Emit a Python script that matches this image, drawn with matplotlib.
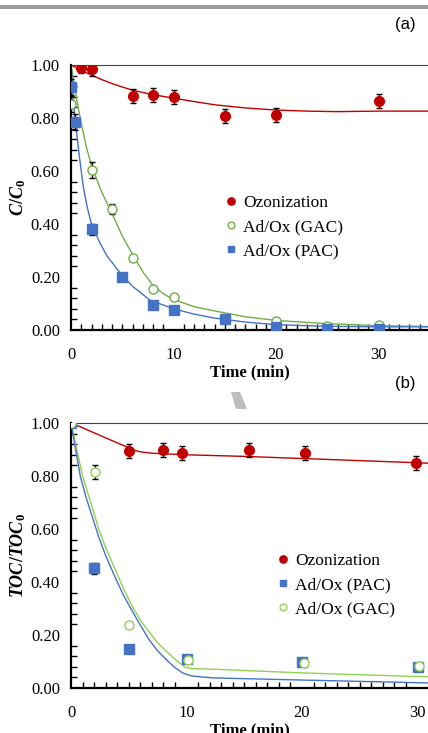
import matplotlib
matplotlib.use("Agg")
import matplotlib.pyplot as plt
from matplotlib.patches import Rectangle, Polygon
from matplotlib.ticker import MultipleLocator
import numpy as np

plt.rcParams["font.family"] = "Liberation Serif"
plt.rcParams["mathtext.fontset"] = "custom"
plt.rcParams["mathtext.it"] = "Liberation Serif:italic:bold"
plt.rcParams["mathtext.rm"] = "Liberation Serif:bold"

RED, GREEN, BLUE = "#C00000", "#70AD47", "#4472C4"
GREEN_B = "#92D050"

# ---- panel (a): C/C0 ----
a_oz_t = [1, 2, 6, 8, 10, 15, 20, 30]
a_oz_y = [0.99, 0.985, 0.883, 0.887, 0.879, 0.808, 0.811, 0.864]
a_oz_err = [0.02, 0.025, 0.025, 0.025, 0.025, 0.025, 0.025, 0.025]
a_gac_t = [0, 2, 4, 6, 8, 10, 20, 25, 30]
a_gac_y = [0.853, 0.604, 0.457, 0.27, 0.155, 0.125, 0.034, 0.015, 0.02]
a_gac_err = [0.03, 0.03, 0.02, 0.01, 0.0, 0.0, 0.0, 0.0, 0.0]
a_pac_t = [0, 0.4, 2, 5, 8, 10, 15, 20, 25, 30]
a_pac_y = [0.917, 0.785, 0.38, 0.20, 0.094, 0.075, 0.041, 0.012, 0.005, 0.004]
a_pac_err = [0.03, 0.03, 0.02, 0.0, 0.0, 0.0, 0.0, 0.0, 0.0, 0.0]

# fitted curves
a_oz_fit_t = [0, 1, 2, 3, 4, 5, 6, 8, 10, 12, 14, 17, 20, 23, 26, 30, 35]
a_oz_fit_y = [1.0, 0.98, 0.962, 0.945, 0.93, 0.917, 0.905, 0.888, 0.875, 0.862,
              0.85, 0.838, 0.83, 0.826, 0.824, 0.826, 0.826]
a_gac_fit_t = [0, 0.3, 0.6, 1, 1.5, 2, 3, 4, 5, 6, 7, 8, 9, 10, 12, 14, 17, 20, 25, 30, 35]
a_gac_fit_y = [1.0, 0.93, 0.86, 0.78, 0.69, 0.62, 0.52, 0.44, 0.355, 0.285, 0.22,
               0.168, 0.137, 0.115, 0.088, 0.072, 0.05, 0.036, 0.024, 0.016, 0.013]
a_pac_fit_t = [0, 0.2, 0.5, 0.8, 1.2, 1.6, 2, 2.8, 3.5, 4.8, 6, 7.7, 10, 12, 14,
               17, 20, 25, 30, 35]
a_pac_fit_y = [1.0, 0.88, 0.76, 0.66, 0.54, 0.46, 0.40, 0.33, 0.28, 0.215, 0.165,
               0.113, 0.08, 0.06, 0.045, 0.03, 0.02, 0.014, 0.012, 0.012]

# ---- panel (b): TOC/TOC0 ----
b_oz_t = [5, 8, 9.6, 15.4, 20.3, 29.9]
b_oz_y = [0.894, 0.898, 0.887, 0.898, 0.887, 0.849]
b_oz_err = [0.025] * 6
b_pac_t = [0, 2, 5, 10, 20, 30]
b_pac_y = [1.0, 0.452, 0.146, 0.11, 0.097, 0.08]
b_pac_err = [0, 0.02, 0, 0, 0, 0]
b_gac_t = [0, 2.1, 5, 10.1, 20.2, 30.1]
b_gac_y = [1.0, 0.815, 0.238, 0.106, 0.094, 0.083]
b_gac_err = [0, 0.025, 0, 0, 0, 0]

b_oz_fit_t = [0, 1, 2, 3, 4, 5, 5.5, 6, 7, 8, 10, 15, 20, 25, 30, 31]
b_oz_fit_y = [1.0, 0.982, 0.963, 0.944, 0.925, 0.907, 0.897, 0.891, 0.886, 0.884,
              0.88, 0.874, 0.866, 0.858, 0.85, 0.848]
b_pac_fit_t = [0, 0.5, 0.8, 1.3, 1.85, 2.4, 3, 3.9, 4.6, 5.4, 6.1, 6.8, 7.5, 8.3,
               9, 9.7, 10.4, 11.2, 12.4, 20, 31]
b_pac_fit_y = [1.0, 0.875, 0.80, 0.72, 0.645, 0.57, 0.50, 0.41, 0.345, 0.283, 0.23,
               0.18, 0.14, 0.105, 0.077, 0.056, 0.046, 0.042, 0.038, 0.03, 0.019]
b_gac_fit_t = [0, 0.5, 1, 1.85, 2.4, 3, 3.9, 4.6, 5.4, 6.1, 6.8, 7.5, 8.3, 9.1,
               9.9, 10.5, 12.3, 20, 31]
b_gac_fit_y = [1.0, 0.9, 0.80, 0.68, 0.60, 0.53, 0.44, 0.37, 0.30, 0.25, 0.21,
               0.17, 0.137, 0.105, 0.078, 0.073, 0.071, 0.057, 0.042]

W, H = 428, 733
fig = plt.figure(figsize=(W / 100, H / 100), dpi=100)

# gray header bar and little gray artifact
fig.add_artist(Rectangle((0, 1 - 9 / H), 1, 4 / H, transform=fig.transFigure,
                         color="#9a9a9a", lw=0))
fig.add_artist(Polygon([(231 / W, 1 - 392 / H), (240 / W, 1 - 392 / H),
                        (247 / W, 1 - 409 / H), (236 / W, 1 - 409 / H)],
                       closed=True, transform=fig.transFigure, color="#bdbdbd", lw=0))

ax1 = fig.add_axes([71 / W, (H - 330) / H, (W - 71) / W, 265 / H])
ax2 = fig.add_axes([71 / W, (H - 688) / H, (W - 71) / W, 265 / H])


def style(ax, xmax, ylab):
    ax.set_xlim(0, xmax)
    ax.set_ylim(0, 1.0)
    ax.spines["right"].set_visible(False)
    ax.spines["top"].set_color("#444444")
    ax.spines["left"].set_linewidth(1.6)
    ax.spines["bottom"].set_linewidth(1.6)
    ax.xaxis.set_major_locator(MultipleLocator(10))
    ax.xaxis.set_minor_locator(MultipleLocator(1))
    ax.yaxis.set_major_locator(MultipleLocator(0.2))
    ax.yaxis.set_minor_locator(MultipleLocator(0.04))
    ax.tick_params(which="both", direction="in", top=False, right=False,
                   labelsize=12, width=1)
    ax.tick_params(which="major", length=0)
    ax.tick_params(which="minor", length=4)
    ax.tick_params(axis="x", pad=12)
    ax.tick_params(axis="y", pad=8)
    ax.yaxis.set_major_formatter(plt.FuncFormatter(lambda v, p: f"{v:.2f}"))
    ax.set_ylabel(ylab, fontsize=13, labelpad=2)
    ax.set_xlabel("Time (min)", fontsize=12, fontweight="bold", labelpad=1)


ekw = dict(ecolor="black", elinewidth=1, capsize=2.5, capthick=1, ls="none")

# panel (a)
ax1.plot(a_oz_fit_t, a_oz_fit_y, color=RED, lw=1, zorder=2)
ax1.plot(a_gac_fit_t, a_gac_fit_y, color=GREEN, lw=1, zorder=2)
ax1.plot(a_pac_fit_t, a_pac_fit_y, color=BLUE, lw=1, zorder=2)
ax1.errorbar(a_oz_t, a_oz_y, yerr=a_oz_err, **ekw, zorder=3)
ax1.errorbar(a_gac_t, a_gac_y, yerr=a_gac_err, **ekw, zorder=3)
ax1.errorbar(a_pac_t, a_pac_y, yerr=a_pac_err, **ekw, zorder=3)
h1, = ax1.plot(a_oz_t, a_oz_y, "o", color=RED, ms=7, ls="none", zorder=4, label="Ozonization")
h2, = ax1.plot(a_gac_t, a_gac_y, "o", mfc="white", mec=GREEN, mew=1, ms=6.5, ls="none",
               zorder=4, label="Ad/Ox (GAC)")
h3, = ax1.plot(a_pac_t, a_pac_y, "s", color=BLUE, ms=6.5, ls="none", zorder=4, label="Ad/Ox (PAC)")
style(ax1, (W - 71) / 10.25, r"$C/C_0$")
ax1.legend(handles=[h1, h2, h3], loc="upper left", bbox_to_anchor=(0.415, 0.535),
           frameon=False, fontsize=12.5, handlelength=0.6, handletextpad=0.4,
           labelspacing=0.45, markerscale=0.75, borderaxespad=0)

# panel (b)
ax2.plot(b_oz_fit_t, b_oz_fit_y, color=RED, lw=1, zorder=2)
ax2.plot(b_gac_fit_t, b_gac_fit_y, color=GREEN_B, lw=1, zorder=2)
ax2.plot(b_pac_fit_t, b_pac_fit_y, color=BLUE, lw=1, zorder=2)
ax2.errorbar(b_oz_t, b_oz_y, yerr=b_oz_err, **ekw, zorder=3)
ax2.errorbar(b_pac_t, b_pac_y, yerr=b_pac_err, **ekw, zorder=3)
ax2.errorbar(b_gac_t, b_gac_y, yerr=b_gac_err, **ekw, zorder=3)
g1, = ax2.plot(b_oz_t, b_oz_y, "o", color=RED, ms=7, ls="none", zorder=4, label="Ozonization")
g2, = ax2.plot(b_pac_t, b_pac_y, "s", color=BLUE, ms=6.5, ls="none", zorder=4, label="Ad/Ox (PAC)")
g3, = ax2.plot(b_gac_t, b_gac_y, "o", mfc="white", mec=GREEN_B, mew=1, ms=6.5, ls="none",
               zorder=5, label="Ad/Ox (GAC)")
style(ax2, (W - 71) / 11.55, r"$TOC/TOC_\mathrm{0}$")
ax2.legend(handles=[g1, g2, g3], loc="upper left", bbox_to_anchor=(0.56, 0.535),
           frameon=False, fontsize=12.5, handlelength=0.6, handletextpad=0.4,
           labelspacing=0.45, markerscale=0.75, borderaxespad=0)

fig.text(405 / W, 1 - 25 / H, "(a)", family="Liberation Sans", fontsize=12,
         ha="center", va="center")
fig.text(405 / W, 1 - 383 / H, "(b)", family="Liberation Sans", fontsize=12,
         ha="center", va="center")

fig.savefig("out.png", dpi=100)
plt.close(fig)
